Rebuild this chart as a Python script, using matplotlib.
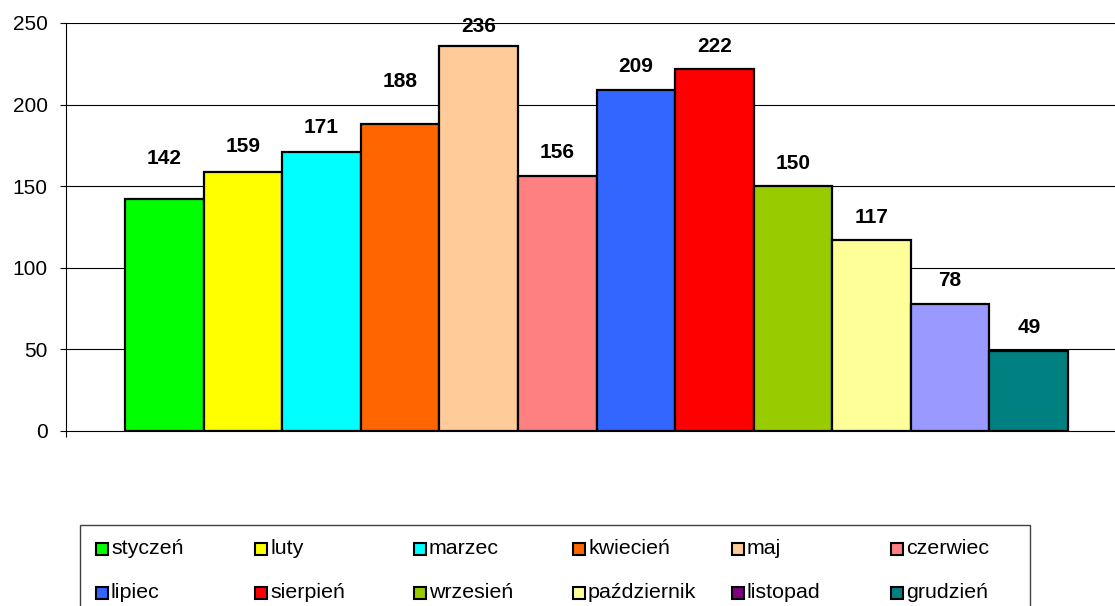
import matplotlib
matplotlib.use("Agg")
import matplotlib.pyplot as plt
from matplotlib.patches import Rectangle

months = ["styczeń", "luty", "marzec", "kwiecień", "maj", "czerwiec",
          "lipiec", "sierpień", "wrzesień", "październik", "listopad", "grudzień"]
values = [142, 159, 171, 188, 236, 156, 209, 222, 150, 117, 78, 49]
bar_colors = ["#00FF00", "#FFFF00", "#00FFFF", "#FF6600", "#FFCC99", "#FF8080",
              "#3366FF", "#FF0000", "#99CC00", "#FFFF99", "#9999FF", "#008080"]
legend_colors = ["#00FF00", "#FFFF00", "#00FFFF", "#FF6600", "#FFCC99", "#FF8080",
                 "#3366FF", "#FF0000", "#99CC00", "#FFFF99", "#800080", "#008080"]
yticks = [0, 50, 100, 150, 200, 250]
label_offsets_px = [41, 25, 24, 43, 19, 24, 23, 22, 23, 23, 23, 24]

plt.rcParams['font.family'] = ['Liberation Sans', 'DejaVu Sans']
FS = 15
FS_LEG = 15.4

W, H = 1115, 606
fig = plt.figure(figsize=(W / 100, H / 100), dpi=100)
ax = fig.add_axes([66 / W, (H - 431) / H, 1061 / W, 408 / H])

xs = list(range(len(values)))
ax.bar(xs, values, width=1.0, color=bar_colors, edgecolor="black",
       linewidth=1.6, zorder=3)
for x, v, off in zip(xs, values, label_offsets_px):
    ax.annotate(str(v), (x, v), xytext=(0, off), textcoords="offset pixels",
                ha="center", va="center", fontsize=FS, fontweight="bold",
                zorder=4)

ax.set_xlim(-1.25, 12.25)
ax.set_ylim(0, 250)
ax.set_yticks(yticks)
ax.set_yticklabels([str(t) for t in yticks], fontsize=FS)
ax.set_xticks([-1.25])
ax.set_xticklabels([""])
ax.tick_params(axis="y", direction="out", length=4.3, width=0.8, pad=9,
               colors="black")
ax.tick_params(axis="x", direction="out", length=4.3, width=0.8)
for t in yticks[1:]:
    ax.axhline(t, color="black", linewidth=0.8, zorder=1)
for s in ["top", "right"]:
    ax.spines[s].set_visible(False)
ax.spines["left"].set_linewidth(0.8)
ax.spines["bottom"].set_linewidth(0.8)
ax.set_facecolor("none")

# Legend (manual, fixed equal columns)
fig.patches.append(Rectangle((80 / W, (H - 640) / H), 950 / W, 115 / H,
                             transform=fig.transFigure, facecolor="white",
                             edgecolor="#404040", linewidth=1.0))
col_x = [96 + 159 * i for i in range(6)]
row_y = [549, 593]
for i, (name, c) in enumerate(zip(months, legend_colors)):
    r, col = divmod(i, 6)
    px = col_x[col]
    py = row_y[r]
    fig.patches.append(Rectangle((px / W, (H - py - 6) / H), 12 / W, 12 / H,
                                 transform=fig.transFigure, facecolor=c,
                                 edgecolor="black", linewidth=1.5))
    fig.text((px + 15) / W, (H - py) / H, name, fontsize=FS_LEG,
             ha="left", va="center")

fig.savefig("out.png", dpi=100)
